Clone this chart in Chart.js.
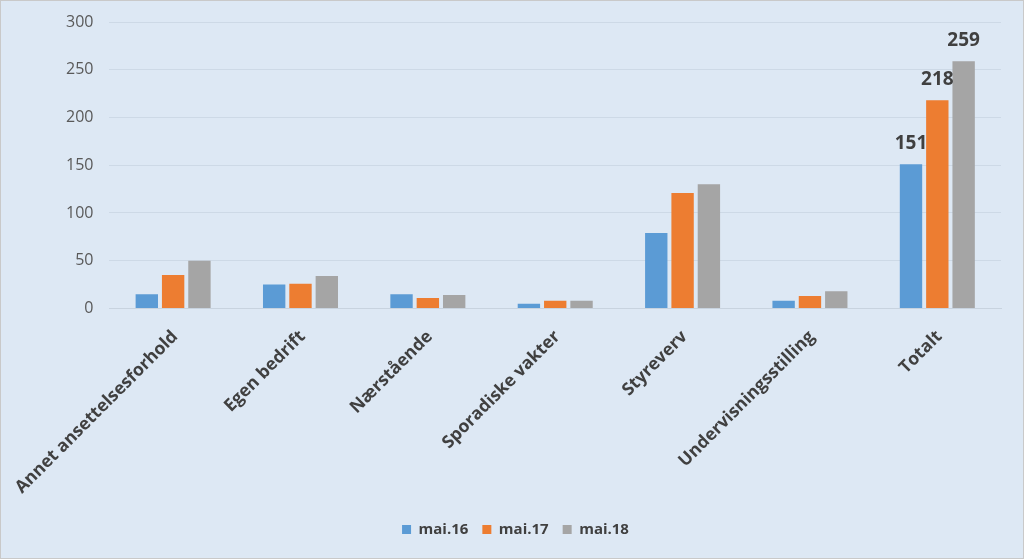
<!DOCTYPE html>
<html>
<head>
<meta charset="utf-8">
<script src="https://cdn.jsdelivr.net/npm/chart.js@4"></script>
<style>
  html, body { margin: 0; padding: 0; background: #ffffff; }
  #wrap { position: relative; width: 1022px; height: 557px; border: 1px solid #c9c9c9; background: #dde8f4; }
</style>
</head>
<body>
<div id="wrap"><canvas id="chart" width="1022" height="557"></canvas></div>
<script>
// --- data ---
const categories = ['Annet ansettelsesforhold', 'Egen bedrift', 'Nærstående', 'Sporadiske vakter', 'Styreverv', 'Undervisningsstilling', 'Totalt'];
const seriesNames = ['mai.16', 'mai.17', 'mai.18'];
const mai16 = [15, 25, 15, 5, 79, 8, 151];
const mai17 = [35, 26, 11, 8, 121, 13, 218];
const mai18 = [50, 34, 14, 8, 130, 18, 259];
const yTicks = [0, 50, 100, 150, 200, 250, 300];
const labelledCategory = 'Totalt';

const colors = ['#5b9bd5', '#ed7d31', '#a5a5a5'];

// value labels above the bars of the "Totalt" group
const totalLabels = {
    id: 'totalLabels',
    afterDatasetsDraw(chart) {
        const ctx = chart.ctx;
        const idx = categories.indexOf(labelledCategory);
        ctx.save();
        ctx.font = 'bold 19px "Open Sans"';
        ctx.fillStyle = '#404040';
        ctx.textAlign = 'center';
        ctx.textBaseline = 'bottom';
        chart.data.datasets.forEach((ds, i) => {
            const bar = chart.getDatasetMeta(i).data[idx];
            ctx.fillText(String(ds.data[idx]), bar.x, bar.y - 11);
        });
        ctx.restore();
    }
};

const ctx = document.getElementById('chart').getContext('2d');
new Chart(ctx, {
    type: 'bar',
    data: {
        labels: categories,
        datasets: [
            { label: seriesNames[0], data: mai16, backgroundColor: colors[0] },
            { label: seriesNames[1], data: mai17, backgroundColor: colors[1] },
            { label: seriesNames[2], data: mai18, backgroundColor: colors[2] }
        ]
    },
    options: {
        responsive: false,
        animation: false,
        categoryPercentage: 0.62,
        barPercentage: 0.85,
        layout: { padding: { left: 29, right: 22, top: 21, bottom: 11 } },
        plugins: {
            legend: {
                position: 'bottom',
                labels: {
                    boxWidth: 9, boxHeight: 9, padding: 14,
                    color: '#404040',
                    font: { family: '"Open Sans"', size: 15, weight: 'bold' }
                }
            },
            tooltip: { enabled: false }
        },
        scales: {
            x: {
                grid: { display: false },
                border: { color: '#c8d3df' },
                afterFit: axis => { axis.paddingLeft = 0; axis.paddingRight = 0; },
                ticks: {
                    minRotation: 45, maxRotation: 45,
                    color: '#404040',
                    padding: 10,
                    labelOffset: 2,
                    font: { family: '"Open Sans"', size: 17.5, weight: 'bold' }
                }
            },
            y: {
                min: 0, max: 300,
                afterBuildTicks: axis => { axis.ticks = yTicks.map(v => ({ value: v })); },
                afterFit: axis => { axis.width += 20; axis.paddingTop = 0; axis.paddingBottom = 0; },
                grid: { color: '#cdd9e6', drawTicks: false },
                border: { display: false },
                ticks: {
                    color: '#595959',
                    padding: 16,
                    font: { family: '"Open Sans"', size: 16 }
                }
            }
        }
    },
    plugins: [totalLabels]
});
</script>
</body>
</html>
